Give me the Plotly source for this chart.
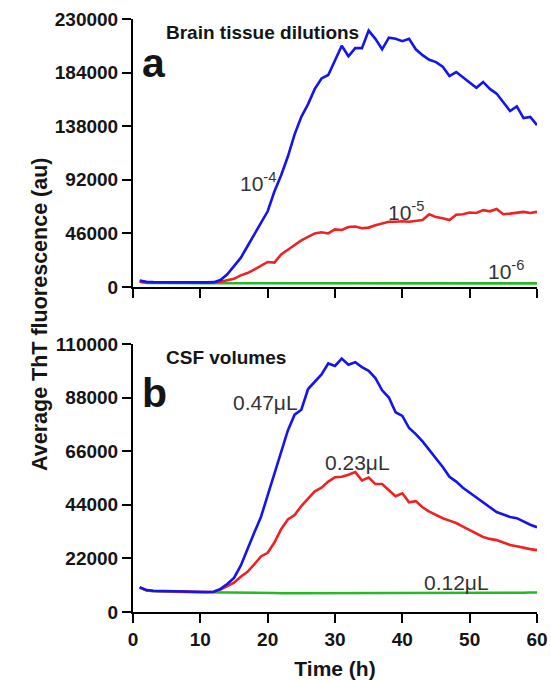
import plotly.graph_objects as go
from plotly.subplots import make_subplots

# Sampling times (h)
time_h = list(range(1, 61))

# Panel a: brain tissue dilutions
brain_1e4 = [5500, 4500, 4200, 4100, 4000, 4000, 4000, 4000, 4000, 4000, 4000, 4200,
             6000, 11000, 18000, 25000, 35000, 45000, 54000, 65000, 82000, 96000, 112000, 131000,
             146000, 157000, 170000, 179000, 182000, 194000, 207000, 198000, 205000, 205000, 220000, 213000,
             204000, 214000, 213000, 211000, 213000, 204000, 199000, 195000, 193000, 189000, 181000, 184500,
             180000, 176000, 171000, 176000, 170000, 166000, 159000, 151000, 155000, 145000, 146000, 139000]
brain_1e5 = [4500, 3800, 3800, 3800, 3800, 3800, 3800, 3800, 3800, 3800, 3800, 3900,
             4500, 5500, 7000, 10000, 12000, 15000, 18500, 21500, 21000, 28000, 32000, 36000,
             40000, 43000, 46000, 47000, 46000, 49500, 49000, 51500, 52000, 50500, 51000, 53000,
             54500, 56000, 56000, 56500, 56000, 57000, 57500, 62500, 60000, 59000, 57500, 62000,
             62500, 64000, 63500, 66000, 65000, 67000, 62500, 63000, 63500, 64500, 63500, 64500]
brain_1e6 = [4500, 3600, 3400, 3300, 3300, 3200, 3200, 3200, 3200, 3200, 3200, 3200,
             3200, 3200, 3100, 3100, 3100, 3100, 3100, 3100, 3100, 3100, 3100, 3100,
             3100, 3100, 3100, 3000, 3000, 3000, 3000, 3000, 3000, 3000, 3000, 3000,
             3000, 3000, 3000, 3000, 3000, 3000, 3000, 3000, 3000, 3000, 3000, 3000,
             3000, 3000, 3000, 3000, 3000, 3000, 3000, 3000, 3100, 3100, 3100, 3100]

# Panel b: CSF volumes
csf_047 = [10200, 9000, 8700, 8600, 8500, 8400, 8300, 8300, 8200, 8200, 8200, 8300,
           9500, 11500, 14000, 19000, 26000, 32500, 39000, 48000, 57000, 65000, 74500, 81000,
           83000, 91500, 94500, 97500, 102000, 101000, 104000, 101500, 102500, 100500, 99000, 96000,
           91000, 88000, 82000, 80500, 75500, 73000, 70000, 66500, 63000, 59500, 55500, 53500,
           51000, 49000, 47000, 44700, 43000, 41000, 40000, 39000, 38500, 37000, 35800, 34800]
csf_023 = [10000, 8900, 8600, 8500, 8400, 8300, 8300, 8200, 8200, 8200, 8200, 8300,
           9200, 10500, 12000, 14500, 16500, 19500, 22800, 24300, 28500, 34000, 38000, 39800,
           43500, 46500, 49500, 51000, 53500, 55300, 55500, 56300, 57400, 54000, 55200, 52500,
           52500, 50000, 47500, 48700, 45000, 45500, 43000, 41200, 39800, 38500, 37500, 36500,
           35000, 33700, 32300, 30800, 30000, 29500, 28500, 27500, 27000, 26300, 25800, 25400]
csf_012 = [10000, 8800, 8500, 8400, 8300, 8200, 8200, 8200, 8100, 8100, 8100, 8100,
           8000, 7900, 7900, 7900, 7800, 7800, 7800, 7800, 7800, 7700, 7700, 7700,
           7700, 7700, 7700, 7700, 7700, 7600, 7600, 7600, 7600, 7600, 7600, 7600,
           7600, 7600, 7600, 7600, 7600, 7600, 7600, 7600, 7600, 7700, 7700, 7700,
           7700, 7700, 7700, 7700, 7800, 7800, 7800, 7800, 7900, 7900, 8000, 8000]

# Axis ticks
x_ticks = [0, 10, 20, 30, 40, 50, 60]
x_ticktext = ["0", "10", "20", "30", "40", "50", "60"]
top_ticks = [0, 46000, 92000, 138000, 184000, 230000]
top_ticktext = ["0", "46000", "92000", "138000", "184000", "230000"]
bot_ticks = [0, 22000, 44000, 66000, 88000, 110000]
bot_ticktext = ["0", "22000", "44000", "66000", "88000", "110000"]

BLUE = "#1414ec"
RED = "#ee2222"
GREEN = "#26b826"
INK = "#151515"
FONT = "Arial, Liberation Sans, sans-serif"

fig = make_subplots(rows=2, cols=1, vertical_spacing=0.096)

for y, c in [(brain_1e6, GREEN), (brain_1e5, RED), (brain_1e4, BLUE)]:
    fig.add_trace(go.Scatter(x=time_h, y=y, mode="lines",
                             line=dict(color=c, width=2.6), showlegend=False), row=1, col=1)
for y, c in [(csf_012, GREEN), (csf_023, RED), (csf_047, BLUE)]:
    fig.add_trace(go.Scatter(x=time_h, y=y, mode="lines",
                             line=dict(color=c, width=2.6), showlegend=False), row=2, col=1)

tick_font = dict(family=FONT, size=19, color=INK, weight="bold")
axis_style = dict(showline=True, linecolor="black", linewidth=2, ticks="outside",
                  ticklen=9, tickwidth=2, tickcolor="black", showgrid=False,
                  zeroline=False, tickfont=tick_font, automargin=False)

fig.update_xaxes(range=[0, 60], tickvals=x_ticks, ticktext=x_ticktext, **axis_style)
fig.update_xaxes(showticklabels=False, row=1, col=1)
fig.update_xaxes(title=dict(text="<b>Time (h)</b>", font=dict(family=FONT, size=21, color=INK),
                            standoff=14), row=2, col=1)
fig.update_yaxes(range=[0, 230000], tickvals=top_ticks, ticktext=top_ticktext,
                 row=1, col=1, **axis_style)
fig.update_yaxes(range=[0, 110000], tickvals=bot_ticks, ticktext=bot_ticktext,
                 row=2, col=1, **axis_style)

label_font = dict(family=FONT, size=21, color="#333")
head_font = dict(family=FONT, size=19, color=INK)
big_font = dict(family=FONT, size=41, color=INK)
annotations = [
    dict(text="<b>Brain tissue dilutions</b>", x=4.6, y=229000, xref="x", yref="y",
         xanchor="left", yanchor="top", font=head_font),
    dict(text="<b>a</b>", x=1.1, y=192000, xref="x", yref="y",
         xanchor="left", yanchor="middle", font=big_font),
    dict(text="10<sup>-4</sup>", x=18.5, y=90000, xref="x", yref="y", font=label_font),
    dict(text="10<sup>-5</sup>", x=40.6, y=65000, xref="x", yref="y", font=label_font),
    dict(text="10<sup>-6</sup>", x=55.4, y=14500, xref="x", yref="y", font=label_font),
    dict(text="<b>CSF volumes</b>", x=4.6, y=109500, xref="x2", yref="y2",
         xanchor="left", yanchor="top", font=head_font),
    dict(text="<b>b</b>", x=1.1, y=90000, xref="x2", yref="y2",
         xanchor="left", yanchor="middle", font=big_font),
    dict(text="0.47μL", x=19.7, y=86000, xref="x2", yref="y2", font=label_font),
    dict(text="0.23μL", x=33.3, y=61500, xref="x2", yref="y2", font=label_font),
    dict(text="0.12μL", x=48.1, y=12000, xref="x2", yref="y2", font=label_font),
    dict(text="<b>Average ThT fluorescence (au)</b>", x=-0.265, y=0.5025, xref="paper",
         yref="paper", textangle=-90, font=dict(family=FONT, size=21.5, color=INK)),
]
for a in annotations:
    a.setdefault("showarrow", False)
    fig.add_annotation(**a)

fig.update_layout(width=551, height=680, margin=dict(l=133, r=14, t=19, b=68),
                  plot_bgcolor="white", paper_bgcolor="white")

fig.write_html("out.html")
